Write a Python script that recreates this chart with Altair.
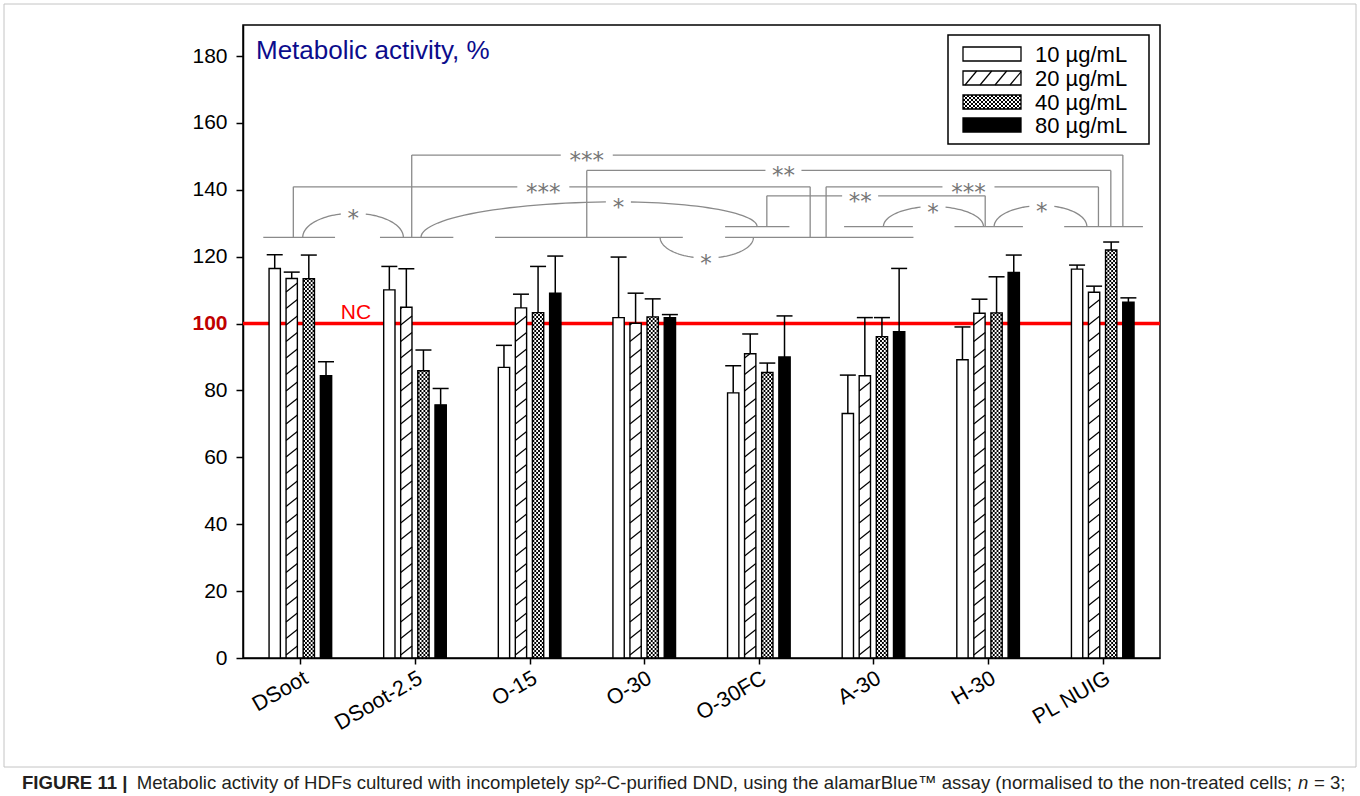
import json
import numpy as np
import pandas as pd
import altair as alt

# ---------------- data ----------------
CATEGORIES = ["DSoot", "DSoot-2.5", "O-15", "O-30", "O-30FC", "A-30", "H-30", "PL NUIG"]
CONCENTRATIONS = ["10 µg/mL", "20 µg/mL", "40 µg/mL", "80 µg/mL"]

MEAN_10 = [116.5, 110.1, 86.9, 101.8, 79.3, 73.1, 89.2, 116.3]
SD_10 = [4.1, 7.0, 6.6, 18.1, 8.1, 11.5, 9.8, 1.2]
MEAN_20 = [113.5, 104.9, 104.7, 100.1, 91.0, 84.4, 103.1, 109.4]
SD_20 = [1.9, 11.5, 4.1, 9.0, 5.9, 17.4, 4.2, 1.8]
MEAN_40 = [113.4, 85.9, 103.3, 102.0, 85.4, 96.1, 103.2, 122.0]
SD_40 = [7.1, 6.2, 13.8, 5.4, 2.8, 5.7, 10.8, 2.4]
MEAN_80 = [84.4, 75.7, 109.1, 101.8, 90.0, 97.6, 115.3, 106.4]
SD_80 = [4.2, 4.9, 11.1, 0.9, 12.3, 18.9, 5.2, 1.3]

Y_TICKS = list(range(0, 181, 20))
NC_LEVEL = 100

# significance annotations: x in category-index units, y in %
BASELINES = [  # x_start, x_end, y
    (-0.323, 0.303, 125.8),
    (0.695, 1.335, 125.8),
    (1.699, 3.337, 125.8),
    (3.706, 5.349, 125.8),
    (3.706, 4.267, 129.0),
    (4.744, 5.344, 129.0),
    (5.707, 6.304, 129.0),
    (6.664, 7.351, 129.0),
]
BRACKETS = [  # x_left, y_left_base, x_right, y_right_base, level, label_x, label
    (-0.061, 125.8, 4.448, 125.8, 140.9, 2.120, "***"),
    (0.972, 125.8, 7.176, 129.0, 150.4, 2.499, "***"),
    (2.499, 125.8, 7.071, 129.0, 145.8, 4.215, "**"),
    (4.587, 125.8, 6.963, 129.0, 140.9, 5.829, "***"),
    (4.070, 129.0, 5.975, 129.0, 138.2, 4.884, "**"),
]
ARCS = [  # x_start, y_start, x_end, y_end, x_label, y_peak, label
    (0.021, 125.8, 0.899, 125.8, 0.462, 133.0, "*"),
    (1.053, 125.8, 3.985, 129.0, 2.775, 136.4, "*"),
    (3.139, 125.8, 3.953, 125.8, 3.540, 119.6, "*"),
    (5.087, 129.0, 5.960, 129.0, 5.520, 135.0, "*"),
    (6.053, 129.0, 6.862, 129.0, 6.469, 135.3, "*"),
]

# ---------------- layout / style ----------------
PLOT_W, PLOT_H = 917, 633
PAD = {"left": 243, "top": 25, "right": 200, "bottom": 138}
Y_MAX = 189.3
PX_X = PLOT_W / 8.0
PX_Y = PLOT_H / Y_MAX

BAR_OFF_PX = [-25.6, -8.6, 8.5, 25.7]
BAR_W_PX = 11.3
CAP_W_PX = 16.0
HATCH_STEP_PX, HATCH_RISE_PX, HATCH_PHASE_PX = 16.5, 9.0, 3.0
CHECK_PX = 2.0
GAP_PX = {1: 12.5, 2: 18.0, 3: 26.0}
GRAY = "#8a8a8a"
STAR_GRAY = "#767676"
FONT = "Liberation Sans"

X_SCALE = alt.Scale(domain=[-0.5, 7.5], nice=False, zero=False)
Y_SCALE = alt.Scale(domain=[0, Y_MAX], nice=False, zero=True)

X_AX = alt.Axis(
    values=list(range(len(CATEGORIES))),
    labelExpr=json.dumps(CATEGORIES) + "[datum.value]",
    labelAngle=-30, labelAlign="right", labelBaseline="top",
    labelFont=FONT, labelFontSize=21.5, labelColor="black", labelPadding=3,
    labelOverlap=False, labelFlush=False,
    tickSize=6, tickWidth=1.5, tickColor="black",
    domainColor="black", domainWidth=1.5, grid=False, title=None,
)
Y_AX = alt.Axis(
    values=Y_TICKS,
    labelFont=FONT, labelFontSize=21, labelPadding=9,
    labelColor=alt.ExprRef(expr="datum.value == 100 ? '#c00000' : 'black'"),
    labelFontWeight=alt.ExprRef(expr="datum.value == 100 ? 'bold' : 'normal'"),
    tickSize=7, tickWidth=1.5, tickColor="black",
    domainColor="black", domainWidth=1.5, grid=False, title=None,
)


def X(f):
    return alt.X(f, type="quantitative", scale=X_SCALE, axis=X_AX)


def Y(f):
    return alt.Y(f, type="quantitative", scale=Y_SCALE, axis=Y_AX)


# ---------------- bar table ----------------
means = [MEAN_10, MEAN_20, MEAN_40, MEAN_80]
sds = [SD_10, SD_20, SD_40, SD_80]
rows = []
for j, conc in enumerate(CONCENTRATIONS):
    for i, cat in enumerate(CATEGORIES):
        c = i + BAR_OFF_PX[j] / PX_X
        rows.append(dict(
            cat=cat, conc=conc, xc=c,
            xl=c - BAR_W_PX / 2 / PX_X, xr=c + BAR_W_PX / 2 / PX_X,
            cl=c - CAP_W_PX / 2 / PX_X, cr=c + CAP_W_PX / 2 / PX_X,
            base=0.0, val=means[j][i], top=means[j][i] + sds[j][i],
        ))
bars = pd.DataFrame(rows)

# hatch for 20 µg/mL
hrows = []
rise, step = HATCH_RISE_PX / PX_Y, HATCH_STEP_PX / PX_Y
for r in bars[bars.conc == CONCENTRATIONS[1]].to_dict("records"):
    y0 = HATCH_PHASE_PX / PX_Y
    while y0 < r["val"]:
        y1 = y0 + rise
        if y1 <= r["val"]:
            hrows.append(dict(x=r["xl"], x2=r["xr"], y=y0, y2=y1))
        else:
            f = (r["val"] - y0) / rise
            hrows.append(dict(x=r["xl"], x2=r["xl"] + f * (r["xr"] - r["xl"]), y=y0, y2=r["val"]))
        y0 += step
hatch = pd.DataFrame(hrows)

# checker for 40 µg/mL
crows = []
ncol = 6
colw = BAR_W_PX / ncol
for r in bars[bars.conc == CONCENTRATIONS[2]].to_dict("records"):
    for k in range(ncol):
        crows.append(dict(x=r["xl"] + (k + 0.5) * colw / PX_X, y=0.0, y2=r["val"], par=k % 2))
checker = pd.DataFrame(crows)

# ---------------- significance geometry ----------------
seg = []
for xa, xb, yy in BASELINES:
    seg.append(dict(x=xa, x2=xb, y=yy, y2=yy))
labels = []
for xa, ya, xb, yb, lev, lx, lab in BRACKETS:
    g = GAP_PX[len(lab)] / PX_X
    seg += [
        dict(x=xa, x2=xa, y=ya, y2=lev),
        dict(x=xa, x2=lx - g, y=lev, y2=lev),
        dict(x=lx + g, x2=xb, y=lev, y2=lev),
        dict(x=xb, x2=xb, y=lev, y2=yb),
    ]
    labels.append(dict(x=lx, y=lev, t=lab))
segs = pd.DataFrame(seg)

arc_rows = []
for a, (xs, ys, xe, ye, lx, pk, lab) in enumerate(ARCS):
    g = GAP_PX[len(lab)] / PX_X
    ax = lx - xs
    tmax = np.arccos(min(1.0, g / ax))
    for k, t in enumerate(np.linspace(0, tmax, 30)):
        arc_rows.append(dict(arc=f"{a}L", k=k, x=lx - ax * np.cos(t), y=ys + (pk - ys) * np.sin(t)))
    bx = xe - lx
    tmax = np.arccos(min(1.0, g / bx))
    for k, t in enumerate(np.linspace(0, tmax, 30)):
        arc_rows.append(dict(arc=f"{a}R", k=k, x=lx + bx * np.cos(t), y=ye + (pk - ye) * np.sin(t)))
    labels.append(dict(x=lx, y=pk, t=lab))
arcs = pd.DataFrame(arc_rows)
stars = pd.DataFrame(labels)

# ---------------- main layers ----------------
nc_df = pd.DataFrame({"y": [NC_LEVEL], "x": [0.486], "t": ["NC"]})

nc_line = alt.Chart(nc_df).mark_rule(color="#ff0000", strokeWidth=3.5).encode(
    y=Y("y"), x=alt.value(0), x2=alt.value(PLOT_W))

bar_fill = alt.Chart(bars).mark_rect().encode(
    x=X("xl"), x2="xr", y=Y("base"), y2="val",
    fill=alt.Fill("conc:N", scale=alt.Scale(domain=CONCENTRATIONS,
                                            range=["white", "white", "white", "black"]),
                  legend=None))

hatch_l = alt.Chart(hatch).mark_rule(color="black", strokeWidth=1.2).encode(
    x=X("x"), x2="x2", y=Y("y"), y2="y2")

check_layers = []
for p in (0, 1):
    check_layers.append(
        alt.Chart(checker[checker.par == p]).mark_rule(
            color="black", strokeWidth=colw, strokeDash=[CHECK_PX, CHECK_PX],
            strokeDashOffset=p * CHECK_PX, strokeCap="butt").encode(
            x=X("x"), y=Y("y"), y2="y2"))

bar_outline = alt.Chart(bars).mark_rect(fill="transparent", stroke="black", strokeWidth=1.4).encode(
    x=X("xl"), x2="xr", y=Y("base"), y2="val")

err_line = alt.Chart(bars).mark_rule(color="black", strokeWidth=1.5).encode(
    x=X("xc"), y=Y("val"), y2="top")
err_cap = alt.Chart(bars).mark_rule(color="black", strokeWidth=1.5).encode(
    x=X("cl"), x2="cr", y=Y("top"))

nc_text = alt.Chart(nc_df).mark_text(color="#ff0000", font=FONT, fontSize=21,
                                     align="center", baseline="alphabetic", dy=-5).encode(
    x=X("x"), y=Y("y"), text="t:N")

seg_l = alt.Chart(segs).mark_rule(color=GRAY, strokeWidth=1.3).encode(
    x=X("x"), x2="x2", y=Y("y"), y2="y2")
arc_l = alt.Chart(arcs).mark_line(color=GRAY, strokeWidth=1.3).encode(
    x=X("x"), y=Y("y"), detail="arc:N", order="k:Q")
star_l = alt.Chart(stars).mark_text(color=STAR_GRAY, font="DejaVu Sans", fontSize=23,
                                    align="center", baseline="middle", dy=6).encode(
    x=X("x"), y=Y("y"), text="t:N")

main = alt.layer(nc_line, bar_fill, hatch_l, *check_layers, bar_outline, err_line, err_cap,
                 nc_text, seg_l, arc_l, star_l)

# ---------------- pixel-space layers (legend, title, frame, caption) ----------------
ONE = pd.DataFrame({"_": [0]})
LEG_BOX = (705, 10, 906, 119)
SW_X0, SW_X1 = 720, 778
ROW0, ROW_STEP, SW_H = 29.3, 23.7, 14
TXT_X = 792

leg = pd.DataFrame({
    "label": CONCENTRATIONS,
    "yc": [ROW0 + k * ROW_STEP for k in range(4)],
    "fill": ["white", "white", "white", "black"],
})
leg["y0"] = (leg.yc - SW_H / 2).round()
leg["y1"] = leg.y0 + SW_H


def PXv(f):
    return alt.X(f, type="quantitative", scale=None, axis=None)


def PYv(f):
    return alt.Y(f, type="quantitative", scale=None, axis=None)


box = alt.Chart(ONE).mark_rect(fill="white", stroke="black", strokeWidth=1.5).encode(
    x=alt.value(LEG_BOX[0]), x2=alt.value(LEG_BOX[2]),
    y=alt.value(LEG_BOX[1]), y2=alt.value(LEG_BOX[3]))
sw_fill = alt.Chart(leg).mark_rect().encode(
    x=alt.value(SW_X0), x2=alt.value(SW_X1), y=PYv("y0"), y2="y1",
    fill=alt.Fill("fill:N", scale=None))

r2 = leg.to_dict("records")[1]
lh = []
for k in range(4):
    xb = SW_X0 + 2 + 15 * k
    xt = xb + 11.7
    yt = r2["y0"]
    if xt > SW_X1:
        f = (SW_X1 - xb) / 11.7
        xt, yt = SW_X1, r2["y1"] - f * SW_H
    lh.append(dict(x=xb, x2=xt, y=r2["y1"], y2=yt))
leg_hatch = alt.Chart(pd.DataFrame(lh)).mark_rule(color="black", strokeWidth=1.2).encode(
    x=PXv("x"), x2="x2", y=PYv("y"), y2="y2")

r3 = leg.to_dict("records")[2]
lc = pd.DataFrame([dict(x=SW_X0 + 1 + 2 * k, y=r3["y0"], y2=r3["y1"], par=k % 2)
                   for k in range((SW_X1 - SW_X0) // 2)])
leg_check = []
for p in (0, 1):
    leg_check.append(alt.Chart(lc[lc.par == p]).mark_rule(
        color="black", strokeWidth=2, strokeDash=[2, 2], strokeDashOffset=2 * p,
        strokeCap="butt").encode(x=PXv("x"), y=PYv("y"), y2="y2"))

sw_outline = alt.Chart(leg).mark_rect(fill="transparent", stroke="black", strokeWidth=1.3).encode(
    x=alt.value(SW_X0), x2=alt.value(SW_X1), y=PYv("y0"), y2="y1")
leg_text = alt.Chart(leg).mark_text(align="left", baseline="middle", font=FONT,
                                    fontSize=22, color="black", dy=1).encode(
    x=alt.value(TXT_X), y=PYv("yc"), text="label:N")

title = alt.Chart(ONE).mark_text(align="left", baseline="alphabetic", font=FONT,
                                 fontSize=26, color="#0c0c8c").encode(
    x=alt.value(13), y=alt.value(33.5), text=alt.value("Metabolic activity, %"))

frame = alt.Chart(ONE).mark_rect(fill="transparent", stroke="#c4c4c4", strokeWidth=1).encode(
    x=alt.value(-239), x2=alt.value(1113), y=alt.value(-21), y2=alt.value(742))

CAP_Y = 764
CAP_SIZE = 18.6
cap_bold = alt.Chart(ONE).mark_text(align="left", baseline="alphabetic", font=FONT,
                                    fontSize=CAP_SIZE, fontWeight="bold", color="#231f20").encode(
    x=alt.value(-221), y=alt.value(CAP_Y), text=alt.value("FIGURE 11 |"))
cap_main = alt.Chart(ONE).mark_text(align="right", baseline="alphabetic", font=FONT,
                                    fontSize=CAP_SIZE, color="#231f20").encode(
    x=alt.value(1049), y=alt.value(CAP_Y),
    text=alt.value("Metabolic activity of HDFs cultured with incompletely sp²-C-purified DND, "
                   "using the alamarBlue™ assay (normalised to the non-treated cells;"))
cap_n = alt.Chart(ONE).mark_text(align="left", baseline="alphabetic", font=FONT,
                                 fontSize=CAP_SIZE, fontStyle="italic", color="#231f20").encode(
    x=alt.value(1055), y=alt.value(CAP_Y), text=alt.value("n"))
cap_end = alt.Chart(ONE).mark_text(align="left", baseline="alphabetic", font=FONT,
                                   fontSize=CAP_SIZE, color="#231f20").encode(
    x=alt.value(1071), y=alt.value(CAP_Y), text=alt.value("= 3;"))

pix = alt.layer(frame, box, sw_fill, leg_hatch, *leg_check, sw_outline, leg_text, title,
                cap_bold, cap_main, cap_n, cap_end)

chart = alt.layer(main, pix).resolve_scale(x="independent", y="independent").properties(
    width=PLOT_W, height=PLOT_H, padding=PAD,
    autosize=alt.AutoSizeParams(type="none"),
    background="white",
).configure_view(stroke="black", strokeWidth=1.5)

chart.save("out.html", embed_options={"renderer": "svg", "actions": False})
